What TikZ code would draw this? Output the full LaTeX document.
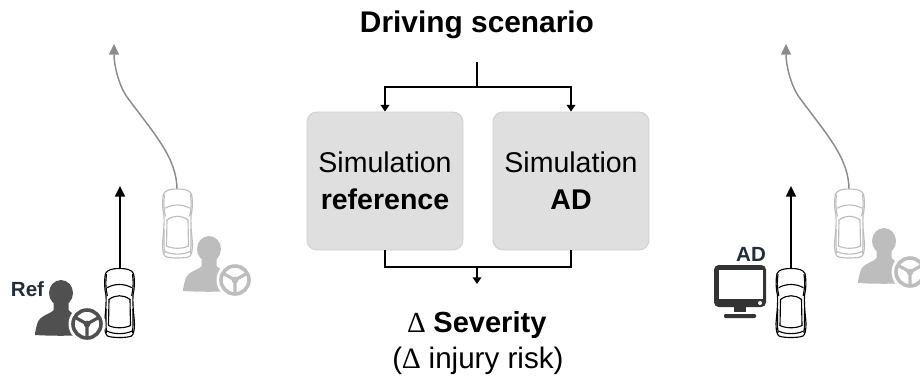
\documentclass[tikz,border=0pt]{standalone}
\usepackage{fontspec}
\setmainfont{Liberation Sans}
\newfontfamily\deltafont{Liberation Serif}
\usetikzlibrary{arrows.meta}
\definecolor{boxfill}{HTML}{DFDFDF}
\definecolor{boxedge}{HTML}{D0D0D0}
\definecolor{fadegrey}{HTML}{BDBDBD}
\definecolor{darkperson}{HTML}{505050}
\definecolor{labelink}{HTML}{1F2D3D}
\definecolor{trackgrey}{HTML}{8C8C8C}
\definecolor{monitorink}{HTML}{333333}
\tikzset{
  simbox/.style={draw=boxedge,line width=0.7pt,fill=boxfill,rounded corners=7.5pt,minimum width=117pt,minimum height=103.5pt,inner sep=0pt,align=center,font=\fontsize{21.4}{27.7}\selectfont},
  title/.style={inner sep=0pt,anchor=base},
  tag/.style={inner sep=0pt,font=\fontsize{15.4}{18}\selectfont\bfseries,text=labelink},
  conn/.style={line width=1.05pt,draw=black},
  connarrow/.style={conn,-{Triangle[length=5pt,width=6.5pt]}},
  pathblack/.style={line width=1.2pt,draw=black,-{Triangle[length=8pt,width=7.5pt]}},
  pathgrey/.style={line width=1.1pt,draw=trackgrey,-{Triangle[length=8pt,width=7.5pt]}},
  pics/vehicle/.style={code={
    \begin{scope}[draw=#1,line width=0.85pt,line cap=round,line join=round]
      \filldraw[fill=white] (0,-35) .. controls (-7,-35) and (-12,-34) .. (-14,-30)
        .. controls (-15.5,-22) and (-15,-15) .. (-13.5,-8)
        .. controls (-13,3) and (-14.5,12) .. (-15,20)
        .. controls (-15,27) and (-14,31) .. (-12,32.5)
        .. controls (-8,34.5) and (8,34.5) .. (12,32.5)
        .. controls (14,31) and (15,27) .. (15,20)
        .. controls (14.5,12) and (13,3) .. (13.5,-8)
        .. controls (15,-15) and (15.5,-22) .. (14,-30)
        .. controls (12,-34) and (7,-35) .. (0,-35) -- cycle;
      \draw (-13,-29) .. controls (-14.2,-20) and (-13.5,-14) .. (-12.2,-8);
      \draw (13,-29) .. controls (14.2,-20) and (13.5,-14) .. (12.2,-8);
      \draw (-12,-16) .. controls (-5,-20) and (5,-20) .. (12,-16);
      \draw (-10.5,-4) .. controls (-4,-9) and (4,-9) .. (10.5,-4);
      \draw (-10.5,-4) -- (-11,22) (10.5,-4) -- (11,22);
      \draw (-13.3,6) .. controls (-13.5,14) and (-13.8,22) .. (-13,29);
      \draw (13.3,6) .. controls (13.5,14) and (13.8,22) .. (13,29);
      \draw (-11,22) .. controls (-5,25) and (5,25) .. (11,22);
      \draw (-12.5,27.5) .. controls (-6,31) and (6,31) .. (12.5,27.5);
    \end{scope}
  }},
  pics/driver/.style={code={
    \fill[#1] (0,0) ellipse (12 and 13);
    \fill[#1] (-7.5,8) -- (-7.5,17) .. controls (-10,21) and (-21,22) .. (-23.5,30)
      .. controls (-25,35) and (-26,39) .. (-26,42)
      .. controls (-10,43) and (10,43) .. (24,42)
      -- (26,30) .. controls (20,23) and (10,21) .. (7.5,17) -- (7.5,8) -- cycle;
    \fill[white] (26,31) circle (18.5);
    \draw[#1,line width=2.7pt] (26,31) circle (14);
    \fill[#1] (26,31) circle (3.4);
    \draw[#1,line width=2.4pt] (26,31) -- (26,45) (26,31) -- ++(-12.5,-7) (26,31) -- ++(12.5,-7);
  }}
}
\begin{document}
\begin{tikzpicture}[x=0.75pt,y=-0.75pt]
\clip (0,0) rectangle (920,376);
\useasboundingbox (0,0) rectangle (920,376);

% central flow
\node[title,font=\fontsize{22.4}{26}\selectfont\bfseries] (scenario) at (477,32) {Driving scenario};
\node[simbox] (simref) at (385,181) {Simulation\\\textbf{reference}};
\node[simbox] (simad) at (571,181) {Simulation\\\textbf{AD}};
\node[title,font=\fontsize{21.8}{26}\selectfont] (severity) at (477,332) {{\deltafont ∆} \textbf{Severity}};
\node[title,font=\fontsize{22.2}{26}\selectfont] (injury) at (478,368) {({\deltafont ∆} injury risk)};
\coordinate (stem) at (477,62);
\coordinate (split) at (477,87);
\coordinate (merge) at (477,267);
\coordinate (outflow) at (477,284);
\draw[conn] (stem) -- (split);
\draw[connarrow] (split) -| (simref.north);
\draw[connarrow] (split) -| (simad.north);
\draw[conn] (simref.south) |- (merge);
\draw[conn] (simad.south) |- (merge);
\draw[connarrow] (merge) -- (outflow);

% left scene
\coordinate (greyA) at (177,190);
\coordinate (endA) at (114,44);
\draw[pathgrey] (greyA) .. controls (177,158) and (155,135) .. (127,97) .. controls (118,84) and (114,64) .. (endA);
\pic at (177.5,224) {vehicle=fadegrey};
\pic at (209,249) {driver=fadegrey};
\coordinate (carA) at (120,268);
\coordinate (aimA) at (120,186);
\draw[pathblack] (carA) -- (aimA);
\pic at (119.5,303.5) {vehicle=black};
\pic at (61,293) {driver=darkperson};
\node[tag,anchor=center] (reflabel) at (27.5,289) {Ref};

% right scene
\coordinate (greyB) at (849,190);
\coordinate (endB) at (786,44);
\draw[pathgrey] (greyB) .. controls (849,158) and (827,135) .. (799,97) .. controls (790,84) and (786,64) .. (endB);
\pic at (849.5,224) {vehicle=fadegrey};
\pic at (884,241) {driver=fadegrey};
\coordinate (carB) at (791,268);
\coordinate (aimB) at (791,186);
\draw[pathblack] (carB) -- (aimB);
\pic at (791,303.5) {vehicle=black};
\node[tag] (adlabel) at (751,254) {AD};
% monitor
\fill[monitorink,rounded corners=3.5pt] (714,265) rectangle (766,307);
\fill[white] (718.5,270) rectangle (762.5,299);
\fill[white] (760,303) circle (2);
\fill[monitorink] (734,306) rectangle (746,312);
\fill[monitorink,rounded corners=0.8pt] (724,314) rectangle (756,318);
\end{tikzpicture}
\end{document}
